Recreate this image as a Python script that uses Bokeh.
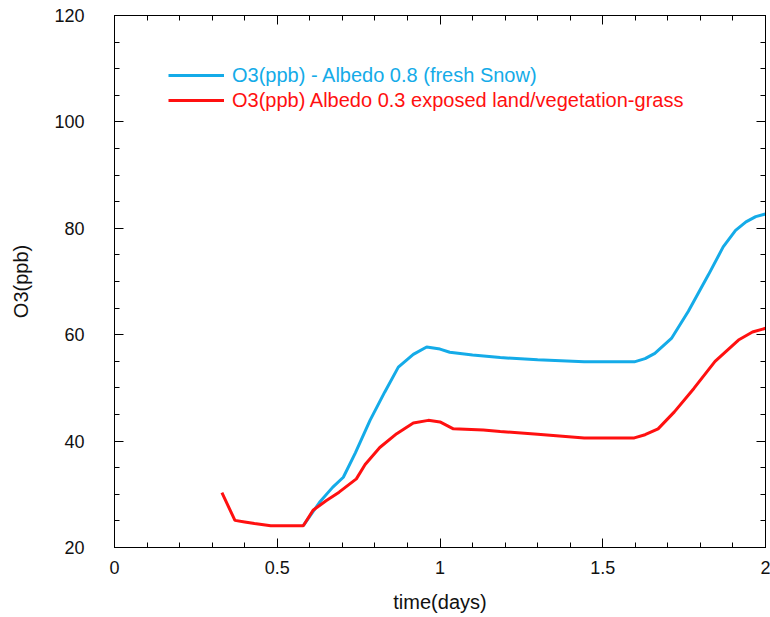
from bokeh.plotting import figure
from bokeh.models import (Range1d, LinearAxis, SingleIntervalTicker, Legend, LegendItem,
                          CustomLabelingPolicy)
from bokeh.embed import file_html
from bokeh.resources import INLINE

# ---- data ----
x_blue = [0.58, 0.63, 0.67, 0.703, 0.74, 0.785, 0.83, 0.872, 0.918, 0.959, 1.0, 1.03, 1.1,
          1.185, 1.3, 1.443, 1.597, 1.63, 1.66, 1.711, 1.763, 1.825, 1.87, 1.908, 1.94, 1.97, 2.0]
y_blue = [24.1, 28.5, 31.3, 33.2, 37.8, 43.9, 49.2, 53.9, 56.3, 57.7, 57.3, 56.7, 56.2,
          55.7, 55.3, 54.9, 54.9, 55.5, 56.5, 59.3, 64.4, 71.3, 76.5, 79.6, 81.2, 82.2, 82.7]

x_red = [0.33, 0.37, 0.40, 0.43, 0.48, 0.58, 0.61, 0.65, 0.69, 0.743, 0.77, 0.815, 0.867, 0.918,
         0.964, 1.0, 1.041, 1.133, 1.185, 1.3, 1.443, 1.597, 1.63, 1.67, 1.72, 1.78, 1.845,
         1.917, 1.96, 2.0]
y_red = [30.3, 25.1, 24.8, 24.5, 24.1, 24.1, 27.0, 28.8, 30.4, 32.9, 35.6, 38.8, 41.4, 43.4,
         43.9, 43.6, 42.3, 42.1, 41.8, 41.3, 40.6, 40.6, 41.2, 42.3, 45.5, 49.9, 55.0,
         59.0, 60.5, 61.2]

label_blue = "O3(ppb) - Albedo 0.8 (fresh Snow)"
label_red = "O3(ppb) Albedo 0.3 exposed land/vegetation-grass"

x_ticks = [0, 0.5, 1, 1.5, 2]
x_tick_labels = ["0", "0.5", "1", "1.5", "2"]
y_ticks = [20, 40, 60, 80, 100, 120]

BLUE = "#14abe8"
RED = "#ff1010"
FONT = "Liberation Sans"

p = figure(width=770, height=617, output_backend="svg", toolbar_location=None,
           x_range=Range1d(0, 2), y_range=Range1d(20, 120),
           min_border_left=114, min_border_right=5, min_border_top=15, min_border_bottom=70,
           x_axis_label="time(days)", y_axis_label="O3(ppb)")

p.xgrid.visible = False
p.ygrid.visible = False
p.outline_line_color = "black"
p.outline_line_width = 1
p.background_fill_color = "white"
p.border_fill_color = "white"

rb = p.line(x_blue, y_blue, line_color=BLUE, line_width=3)
rr = p.line(x_red, y_red, line_color=RED, line_width=3)

hide_all = CustomLabelingPolicy(code="""
for (const i of Array.from(indices)) { indices.unset(i) }
return indices
""")

def style_axis(ax, ticker, labels=True):
    ax.ticker = ticker
    ax.axis_line_color = "black"
    ax.major_tick_in = 9
    ax.major_tick_out = 0
    ax.minor_tick_in = 5
    ax.minor_tick_out = 0
    ax.major_tick_line_color = "black"
    ax.minor_tick_line_color = "black"
    if labels:
        ax.major_label_text_font = FONT
        ax.major_label_text_font_size = "18px"
        ax.major_label_text_color = "#111111"
        ax.axis_label_text_font = FONT
        ax.axis_label_text_font_size = "20px"
        ax.axis_label_text_font_style = "normal"
        ax.axis_label_text_color = "#111111"
    else:
        ax.major_label_policy = hide_all
        ax.major_label_text_font_size = "1px"
        ax.major_label_standoff = 0
        ax.axis_label = None

xt = SingleIntervalTicker(interval=0.5, num_minor_ticks=5)
yt = SingleIntervalTicker(interval=20, num_minor_ticks=4)

style_axis(p.xaxis[0], xt)
p.xaxis[0].major_label_overrides = {t: l for t, l in zip(x_ticks, x_tick_labels)}
p.xaxis[0].major_label_standoff = 13
p.xaxis[0].axis_label_standoff = 14

style_axis(p.yaxis[0], yt)
p.yaxis[0].major_label_standoff = 30
p.yaxis[0].axis_label_standoff = 19

top = LinearAxis()
right = LinearAxis()
style_axis(top, SingleIntervalTicker(interval=0.5, num_minor_ticks=5), labels=False)
style_axis(right, SingleIntervalTicker(interval=20, num_minor_ticks=4), labels=False)
p.add_layout(top, "above")
p.add_layout(right, "right")

def make_legend(renderer, label, color, loc):
    lg = Legend(items=[LegendItem(label=label, renderers=[renderer])], location=loc)
    lg.label_text_color = color
    lg.label_text_font = FONT
    lg.label_text_font_size = "20px"
    lg.glyph_width = 56
    lg.glyph_height = 24
    lg.label_height = 24
    lg.label_standoff = 8
    lg.padding = 0
    lg.margin = 0
    lg.spacing = 0
    lg.border_line_color = None
    lg.background_fill_alpha = 0
    lg.click_policy = "none"
    p.add_layout(lg, "center")

make_legend(rb, label_blue, BLUE, (54, 460))
make_legend(rr, label_red, RED, (54, 435))

open("out.html", "w").write(file_html(p, INLINE))
